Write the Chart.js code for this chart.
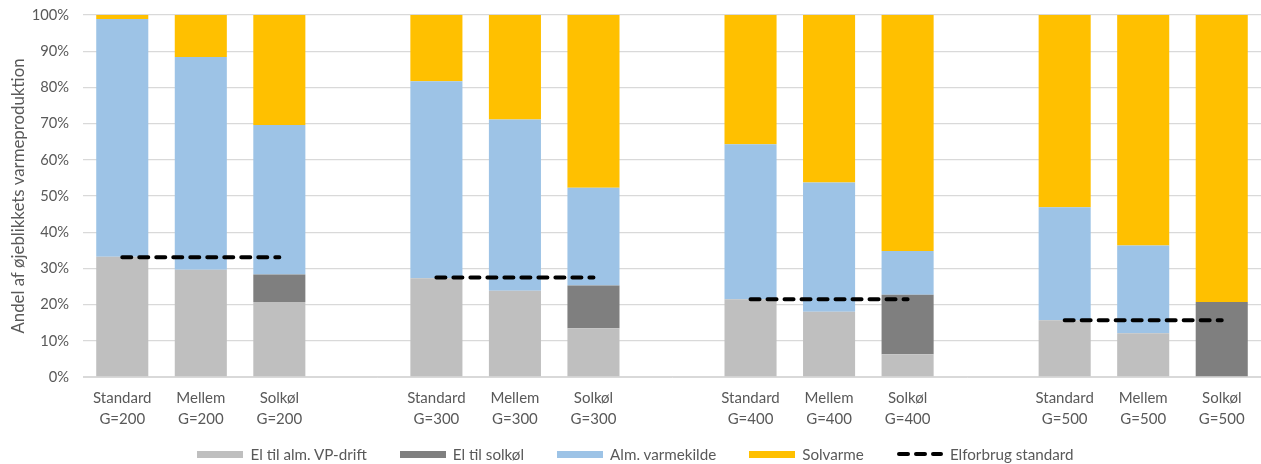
<!DOCTYPE html>
<html lang="da">
<head>
<meta charset="utf-8">
<title>Andel af øjeblikkets varmeproduktion</title>
<script src="https://cdn.jsdelivr.net/npm/chart.js@4.4.1/dist/chart.umd.min.js"></script>
<style>
    html, body { margin: 0; padding: 0; background: #fff; }
    #wrap { position: relative; width: 1261px; height: 464px; }
    #chart { position: absolute; left: 0; top: 0; }
    #legend {
        position: absolute; left: 10px; top: 444px; width: 1251px; height: 20px;
        display: flex; justify-content: center; align-items: center;
        font-family: Lato, "Liberation Sans", sans-serif; font-size: 15.2px; color: #595959;
    }
    .legend-item { display: flex; align-items: center; margin: 0 16.5px; }
    .legend-box { width: 46px; height: 7px; margin-right: 7px; }
    .legend-item svg { margin-right: 7px; }
</style>
</head>
<body>
<div id="wrap">
    <canvas id="chart" width="1261" height="464"></canvas>
    <div id="legend"></div>
</div>
<script>
// Slots 3, 7 and 11 are empty spacers between the G groups (Excel-style gaps).
const categories = [
    ['Standard', 'G=200'], ['Mellem', 'G=200'], ['Solkøl', 'G=200'], '',
    ['Standard', 'G=300'], ['Mellem', 'G=300'], ['Solkøl', 'G=300'], '',
    ['Standard', 'G=400'], ['Mellem', 'G=400'], ['Solkøl', 'G=400'], '',
    ['Standard', 'G=500'], ['Mellem', 'G=500'], ['Solkøl', 'G=500']
];

// Shares in percent
const elAlmVpDrift = [33.2, 29.6, 20.7, null, 27.3, 23.8, 13.5, null, 21.5, 18.0, 6.3, null, 15.7, 12.1, 0];
const elSolkol = [0, 0, 7.6, null, 0, 0, 11.8, null, 0, 0, 16.4, null, 0, 0, 20.7];
const almVarmekilde = [65.7, 58.8, 41.3, null, 54.4, 47.3, 27.0, null, 42.8, 35.7, 12.1, null, 31.2, 24.2, 0];
const solvarme = [1.1, 11.6, 30.4, null, 18.3, 28.9, 47.7, null, 35.7, 46.3, 65.2, null, 53.1, 63.7, 79.3];
const elforbrugStandard = [33.1, 33.1, 33.1, null, 27.5, 27.5, 27.5, null, 21.5, 21.5, 21.5, null, 15.7, 15.7, 15.7];

const yTicks = [0, 10, 20, 30, 40, 50, 60, 70, 80, 90, 100];

const TEXT_COLOR = '#595959';
const GRID_COLOR = '#d9d9d9';
const FONT = { family: 'Lato, "Liberation Sans", sans-serif', size: 14.7 };

function barSet(label, data, color) {
    return {
        type: 'bar',
        label,
        data,
        backgroundColor: color,
        borderWidth: 0,
        stack: 'andel',
        order: 1,
        barPercentage: 0.663,
        categoryPercentage: 1
    };
}

const datasets = [
    barSet('El til alm. VP-drift', elAlmVpDrift, '#bfbfbf'),
    barSet('El til solkøl', elSolkol, '#7f7f7f'),
    barSet('Alm. varmekilde', almVarmekilde, '#9dc3e6'),
    barSet('Solvarme', solvarme, '#ffc000'),
    {
        type: 'line',
        label: 'Elforbrug standard',
        data: elforbrugStandard,
        borderColor: '#000',
        backgroundColor: 'transparent',
        borderWidth: 4,
        borderDash: [9, 8],
        borderCapStyle: 'round',
        pointRadius: 0,
        spanGaps: false,
        stack: 'ref',
        order: 0
    }
];

const chart = new Chart(document.getElementById('chart'), {
    data: { labels: categories, datasets },
    options: {
        responsive: false,
        animation: false,
        layout: { padding: { top: 15, right: 0, bottom: 27, left: 0 } },
        plugins: {
            legend: { display: false },
            tooltip: { enabled: false }
        },
        scales: {
            x: {
                stacked: true,
                grid: { display: false, drawTicks: false },
                border: { color: GRID_COLOR, width: 1 },
                ticks: { color: TEXT_COLOR, font: { ...FONT, size: 15, lineHeight: 1.45 }, padding: 10, maxRotation: 0, autoSkip: false },
                afterFit: scale => { scale.height = 60; }
            },
            y: {
                stacked: true,
                min: 0,
                max: 100,
                afterBuildTicks: scale => { scale.ticks = yTicks.map(v => ({ value: v })); },
                grid: { color: GRID_COLOR, lineWidth: 1.3, drawTicks: false },
                border: { display: false },
                ticks: { color: TEXT_COLOR, font: FONT, padding: 14, callback: v => v + '%' },
                title: {
                    display: true,
                    text: 'Andel af øjeblikkets varmeproduktion',
                    color: TEXT_COLOR,
                    font: { ...FONT, size: 16.8 },
                    padding: { top: 9, bottom: 0 }
                },
                afterFit: scale => {
                    scale.width = 83;
                    // the layout padding already leaves room for the 100% label
                    scale.paddingTop = 0;
                    scale.paddingBottom = 0;
                }
            }
        }
    }
});

// HTML legend in dataset order, Excel-style long swatches
const legendEl = document.getElementById('legend');
chart.data.datasets.forEach(ds => {
    const item = document.createElement('span');
    item.className = 'legend-item';
    if (ds.type === 'line') {
        item.innerHTML = '<svg width="46" height="8"><line x1="2" y1="4" x2="44" y2="4" stroke="#000" stroke-width="4" stroke-dasharray="9 8" stroke-linecap="round"/></svg>';
    } else {
        const box = document.createElement('span');
        box.className = 'legend-box';
        box.style.background = ds.backgroundColor;
        item.appendChild(box);
    }
    const text = document.createElement('span');
    text.textContent = ds.label;
    item.appendChild(text);
    legendEl.appendChild(item);
});
</script>
</body>
</html>
